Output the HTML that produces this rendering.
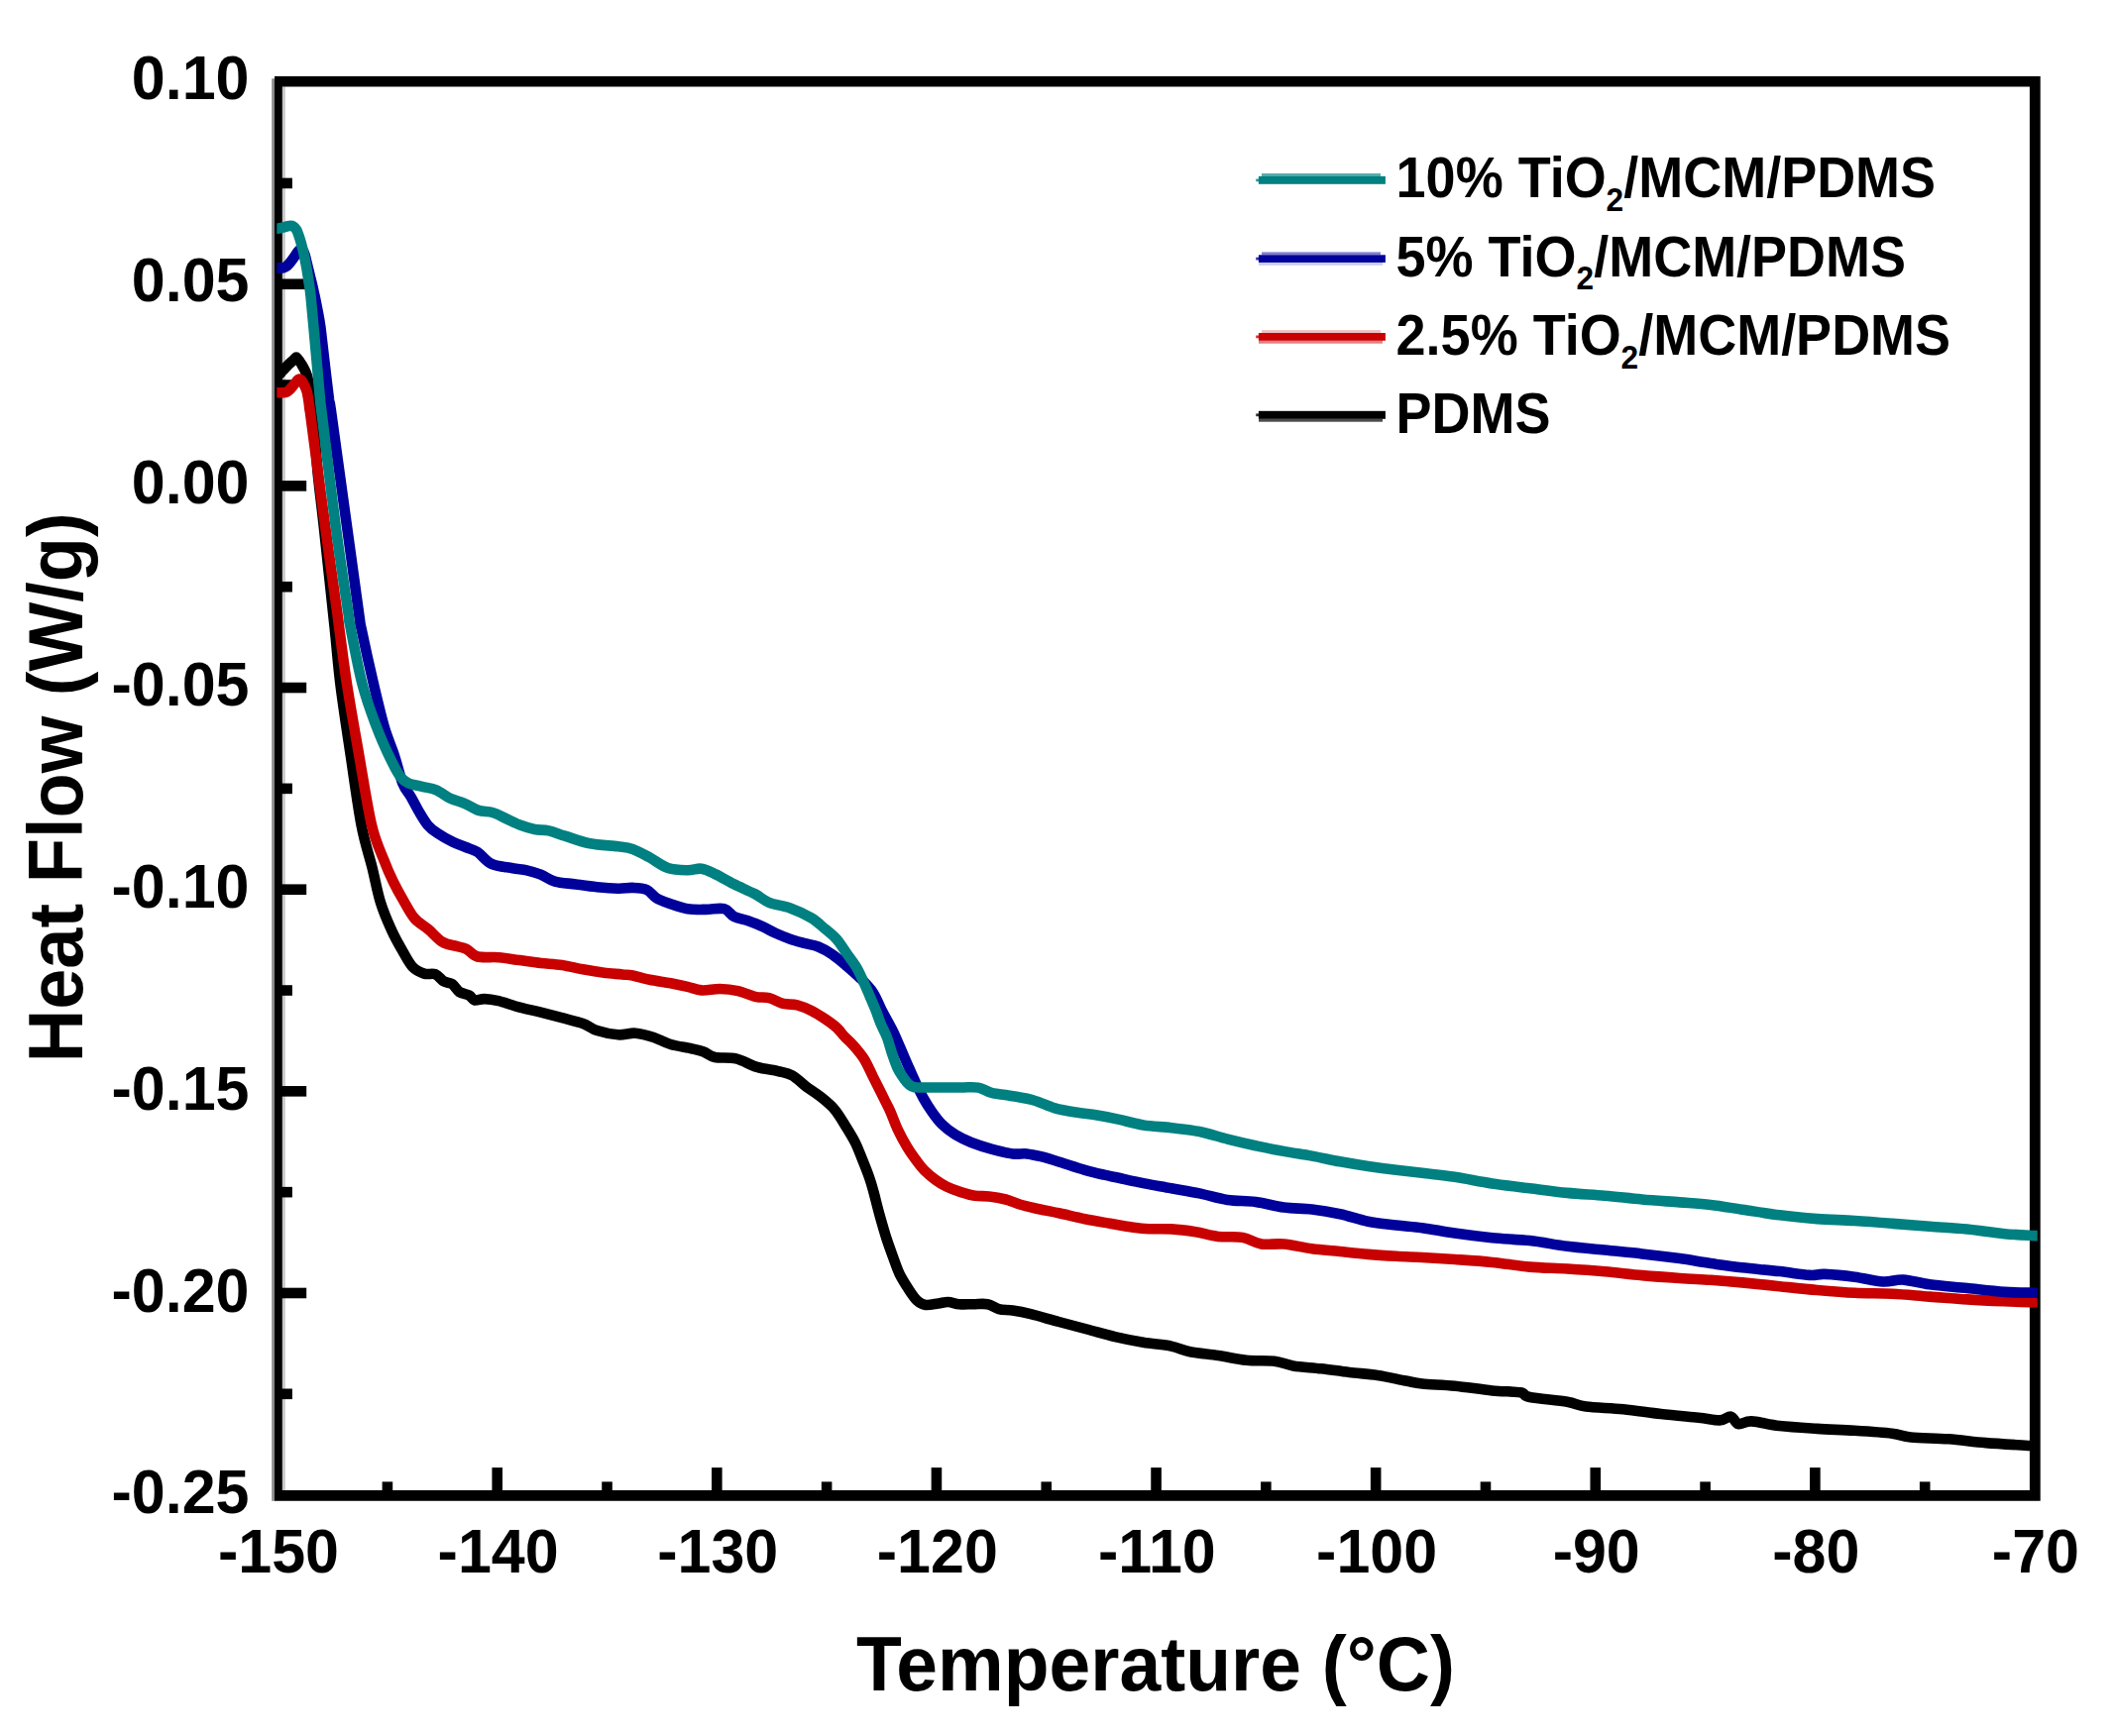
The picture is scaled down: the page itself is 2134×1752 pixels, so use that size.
<!DOCTYPE html>
<html lang="en"><head><meta charset="utf-8"><title>DSC Heat Flow vs Temperature</title>
<style>
html,body{margin:0;padding:0;background:#fff;}
body{width:2134px;height:1752px;overflow:hidden;}
svg{display:block;}
text{font-family:"Liberation Sans",sans-serif;font-weight:700;fill:#000;}
.tk{font-size:63px;}
.lg{font-size:58px;}
.sb{font-size:34px;}
.ti{font-size:77.5px;}
.cv{fill:none;stroke-linejoin:round;stroke-linecap:butt;}
</style></head><body>
<svg width="2134" height="1752" viewBox="0 0 2134 1752">
<rect x="0" y="0" width="2134" height="1752" fill="#ffffff"/>
<rect x="274.2" y="79.3" width="3.2" height="1435.5" fill="#8a8a8a"/>
<rect x="284.4" y="87.6" width="3.4" height="1416.4" fill="#c8c8c8"/>
<path fill="#000" fill-rule="evenodd" d="M277 77H2058.7V1514.8H277ZM284.8 87.6V1504H2047.9V87.6Z"/>
<g stroke="#000" stroke-width="10.6" fill="none">
<line x1="390.91" y1="1505" x2="390.91" y2="1495.40"/>
<line x1="501.71" y1="1505" x2="501.71" y2="1481.10"/>
<line x1="612.52" y1="1505" x2="612.52" y2="1495.40"/>
<line x1="723.32" y1="1505" x2="723.32" y2="1481.10"/>
<line x1="834.13" y1="1505" x2="834.13" y2="1495.40"/>
<line x1="944.94" y1="1505" x2="944.94" y2="1481.10"/>
<line x1="1055.74" y1="1505" x2="1055.74" y2="1495.40"/>
<line x1="1166.55" y1="1505" x2="1166.55" y2="1481.10"/>
<line x1="1277.35" y1="1505" x2="1277.35" y2="1495.40"/>
<line x1="1388.16" y1="1505" x2="1388.16" y2="1481.10"/>
<line x1="1498.97" y1="1505" x2="1498.97" y2="1495.40"/>
<line x1="1609.77" y1="1505" x2="1609.77" y2="1481.10"/>
<line x1="1720.58" y1="1505" x2="1720.58" y2="1495.40"/>
<line x1="1831.38" y1="1505" x2="1831.38" y2="1481.10"/>
<line x1="1942.19" y1="1505" x2="1942.19" y2="1495.40"/>
<line x1="284" y1="184.92" x2="294.90" y2="184.92"/>
<line x1="284" y1="286.75" x2="309.20" y2="286.75"/>
<line x1="284" y1="388.57" x2="294.90" y2="388.57"/>
<line x1="284" y1="490.39" x2="309.20" y2="490.39"/>
<line x1="284" y1="592.21" x2="294.90" y2="592.21"/>
<line x1="284" y1="694.04" x2="309.20" y2="694.04"/>
<line x1="284" y1="795.86" x2="294.90" y2="795.86"/>
<line x1="284" y1="897.68" x2="309.20" y2="897.68"/>
<line x1="284" y1="999.51" x2="294.90" y2="999.51"/>
<line x1="284" y1="1101.33" x2="309.20" y2="1101.33"/>
<line x1="284" y1="1203.15" x2="294.90" y2="1203.15"/>
<line x1="284" y1="1304.98" x2="309.20" y2="1304.98"/>
<line x1="284" y1="1406.80" x2="294.90" y2="1406.80"/>
</g>
<defs><clipPath id="cvclip"><rect x="279.3" y="60" width="1776.4" height="1480"/></clipPath></defs>
<g clip-path="url(#cvclip)">
<path class="cv" stroke="#000000" stroke-width="10.6" d="M273.3 380.0C273.8 380.0 275.3 380.0 276.3 380.0C277.3 380.0 277.9 380.9 279.3 380.0C280.8 379.1 283.1 376.4 285.0 374.4C286.9 372.4 289.2 369.8 291.0 368.0C292.8 366.2 294.8 364.5 296.0 363.4C297.2 362.3 297.6 361.7 298.1 361.2C298.6 360.7 298.6 360.5 298.9 360.5C299.2 360.5 299.3 360.7 299.8 361.3C300.3 361.9 301.2 363.0 302.0 364.2C302.8 365.4 304.0 367.1 304.8 368.5C305.6 369.9 306.3 371.0 307.0 372.5C307.7 374.0 308.6 375.8 309.2 377.5C309.8 379.2 310.3 380.6 310.8 383.0C311.3 385.4 311.7 388.7 312.2 392.0C312.7 395.3 313.1 398.7 313.8 403.0C314.5 407.3 315.1 406.0 316.2 418.0C317.3 430.0 318.6 456.0 320.4 475.0C322.2 494.0 324.0 505.8 326.8 531.8C329.6 557.8 334.6 604.5 337.4 631.0C340.2 657.5 340.8 669.2 343.5 691.0C346.2 712.8 350.2 738.2 353.7 761.8C357.2 785.4 361.0 813.8 364.6 832.8C368.2 851.8 372.3 862.5 375.5 875.5C378.7 888.5 380.7 900.3 384.0 910.9C387.3 921.5 391.5 931.0 395.3 939.3C399.1 947.6 403.1 954.5 406.7 960.6C410.2 966.8 413.1 972.5 416.6 976.2C420.2 979.9 424.2 981.4 428.0 982.6C431.8 983.8 436.0 982.0 439.3 983.3C442.6 984.6 445.0 988.8 447.8 990.4C450.6 992.0 453.7 991.4 456.3 993.2C458.9 995.0 460.6 999.1 463.4 1001.0C466.2 1002.9 470.7 1003.1 473.3 1004.5C475.9 1005.9 476.4 1008.9 479.0 1009.5C481.6 1010.1 484.9 1008.0 488.9 1008.1C492.9 1008.2 497.2 1008.8 503.1 1010.2C509.0 1011.6 517.3 1014.7 524.4 1016.6C531.5 1018.5 538.6 1019.8 545.7 1021.6C552.8 1023.4 559.9 1025.3 567.0 1027.2C574.1 1029.1 582.3 1030.8 588.2 1032.9C594.1 1035.0 596.5 1038.1 602.4 1040.0C608.3 1041.9 617.2 1043.8 623.7 1044.3C630.2 1044.8 635.3 1042.2 641.3 1042.7C647.3 1043.2 653.8 1045.1 659.7 1047.0C665.6 1048.9 670.3 1052.1 676.7 1054.0C683.1 1055.9 692.5 1057.0 698.0 1058.3C703.5 1059.5 706.1 1060.0 710.0 1061.5C713.9 1063.0 715.9 1065.8 721.3 1067.0C726.7 1068.2 735.5 1066.8 742.6 1068.4C749.7 1070.1 756.7 1074.8 763.8 1076.9C770.9 1079.0 779.2 1079.7 785.1 1081.1C791.0 1082.5 794.6 1082.8 799.3 1085.4C804.0 1088.0 808.8 1093.2 813.5 1096.7C818.2 1100.2 823.0 1102.9 827.7 1106.7C832.4 1110.5 837.5 1114.4 841.8 1119.4C846.0 1124.4 849.7 1130.8 853.2 1136.5C856.8 1142.2 860.3 1147.8 863.1 1153.5C865.9 1159.2 867.8 1164.6 870.2 1170.5C872.6 1176.4 875.4 1183.5 877.3 1188.9C879.2 1194.3 879.8 1196.7 881.5 1203.0C883.2 1209.3 885.4 1218.7 887.6 1226.5C889.8 1234.3 892.2 1242.9 894.5 1250.0C896.8 1257.1 899.1 1263.2 901.3 1269.2C903.5 1275.2 905.1 1280.5 907.7 1285.8C910.3 1291.1 914.0 1296.8 916.9 1301.3C919.8 1305.8 922.6 1310.0 925.4 1312.6C928.2 1315.2 930.3 1316.4 933.9 1316.9C937.5 1317.4 942.9 1316.0 946.7 1315.5C950.5 1315.0 953.1 1313.9 956.6 1314.0C960.1 1314.1 963.6 1315.8 967.9 1316.2C972.1 1316.6 977.4 1316.2 982.1 1316.2C986.8 1316.2 992.0 1315.4 996.3 1316.2C1000.6 1317.0 1003.5 1320.0 1007.7 1321.1C1012.0 1322.2 1016.4 1321.8 1021.8 1322.6C1027.2 1323.4 1032.2 1324.3 1040.0 1326.2C1047.8 1328.1 1059.0 1331.5 1068.4 1334.0C1077.9 1336.5 1087.2 1339.0 1096.7 1341.5C1106.2 1344.0 1115.6 1346.9 1125.1 1349.1C1134.6 1351.3 1144.0 1353.2 1153.5 1354.8C1163.0 1356.4 1173.9 1357.0 1181.8 1358.6C1189.7 1360.2 1192.9 1362.6 1200.8 1364.2C1208.7 1365.8 1219.6 1366.6 1229.1 1368.0C1238.5 1369.4 1248.0 1371.8 1257.5 1372.7C1267.0 1373.7 1278.0 1372.8 1285.9 1373.7C1293.8 1374.7 1296.9 1377.1 1304.8 1378.4C1312.7 1379.7 1323.6 1380.2 1333.1 1381.3C1342.5 1382.4 1352.0 1383.9 1361.5 1385.0C1371.0 1386.1 1380.4 1386.5 1389.9 1387.9C1399.4 1389.3 1410.8 1392.1 1418.3 1393.5C1425.8 1394.9 1426.8 1395.6 1435.0 1396.5C1443.2 1397.4 1456.0 1397.5 1467.8 1398.7C1479.6 1399.9 1494.6 1402.3 1505.6 1403.4C1516.6 1404.5 1527.7 1404.2 1534.0 1405.3C1540.3 1406.4 1535.6 1408.4 1543.5 1410.0C1551.4 1411.6 1571.8 1413.2 1581.3 1414.8C1590.8 1416.4 1590.8 1418.2 1600.2 1419.5C1609.7 1420.8 1625.4 1421.0 1638.0 1422.3C1650.6 1423.6 1663.3 1425.7 1675.9 1427.1C1688.5 1428.5 1703.8 1429.8 1713.7 1430.8C1723.6 1431.8 1729.6 1433.6 1735.1 1433.4C1740.6 1433.2 1743.3 1429.0 1746.5 1429.6C1749.7 1430.2 1750.5 1436.4 1754.0 1437.2C1757.5 1438.0 1760.4 1434.1 1767.3 1434.4C1774.2 1434.7 1784.6 1437.8 1795.6 1439.1C1806.6 1440.3 1820.9 1441.1 1833.5 1441.9C1846.1 1442.7 1858.7 1443.0 1871.3 1443.8C1883.9 1444.6 1899.6 1445.6 1909.1 1446.7C1918.5 1447.8 1918.5 1449.6 1928.0 1450.5C1937.5 1451.4 1953.3 1451.4 1965.9 1452.3C1978.5 1453.2 1990.0 1455.0 2003.7 1456.1C2017.4 1457.2 2039.4 1458.4 2048.1 1459.0C2056.8 1459.6 2053.8 1459.4 2055.7 1459.5C2057.6 1459.6 2059.0 1459.8 2059.7 1459.8"/>
<path class="cv" stroke="#c80000" stroke-width="10.6" d="M273.3 396.2C273.8 396.2 275.3 396.2 276.3 396.2C277.3 396.2 277.4 396.2 279.3 396.2C281.2 396.2 286.0 396.4 288.0 396.0C290.0 395.6 290.3 395.0 291.5 394.0C292.7 393.0 293.8 391.6 295.0 390.2C296.2 388.8 297.4 387.1 298.5 385.8C299.6 384.5 300.8 382.7 301.9 382.6C303.0 382.5 304.1 383.8 305.0 385.0C305.9 386.2 306.8 388.3 307.6 390.0C308.4 391.7 309.1 393.0 309.7 395.3C310.3 397.6 310.8 400.9 311.3 404.0C311.8 407.1 312.1 410.9 312.5 413.7C312.9 416.5 311.0 401.3 313.6 421.0C316.2 440.7 323.7 498.6 328.2 531.8C332.7 565.0 338.2 603.5 340.5 620.0C342.8 636.5 340.3 619.3 341.9 631.1C343.5 642.9 346.7 669.2 350.1 691.0C353.5 712.8 358.1 738.2 362.2 761.8C366.3 785.4 370.8 815.0 375.0 832.8C379.2 850.6 383.9 858.9 387.5 868.4C391.1 877.9 393.5 883.0 396.7 889.6C399.9 896.2 403.1 902.0 406.7 908.1C410.2 914.2 413.8 921.5 418.0 926.5C422.2 931.5 427.5 933.9 432.2 937.9C436.9 941.9 441.7 947.8 446.4 950.6C451.1 953.4 456.6 953.7 460.6 954.9C464.6 956.1 467.0 955.9 470.5 957.7C474.0 959.5 476.4 964.1 481.8 965.5C487.2 966.9 496.0 965.6 503.1 966.2C510.2 966.8 517.3 968.2 524.4 969.1C531.5 970.0 538.6 971.1 545.7 971.9C552.8 972.7 559.9 972.9 567.0 974.0C574.1 975.1 581.1 977.0 588.2 978.3C595.3 979.6 602.9 980.9 609.5 981.8C616.1 982.6 623.2 982.9 628.0 983.4C632.8 983.9 633.8 983.6 638.4 984.5C643.0 985.4 649.1 987.5 655.5 988.8C661.9 990.1 670.3 991.1 676.7 992.3C683.1 993.5 688.6 994.7 693.8 995.9C699.0 997.1 702.5 999.0 707.9 999.4C713.3 999.8 720.2 997.9 726.4 998.0C732.5 998.1 738.9 998.8 744.8 1000.1C750.7 1001.4 756.6 1004.6 761.8 1005.8C767.0 1007.0 771.3 1006.0 776.0 1007.2C780.7 1008.4 785.5 1011.7 790.2 1012.9C794.9 1014.1 799.7 1013.1 804.4 1014.3C809.1 1015.5 813.9 1017.6 818.6 1020.0C823.3 1022.4 828.5 1025.7 832.8 1028.5C837.0 1031.3 840.9 1034.1 844.1 1037.0C847.3 1039.9 849.3 1043.1 852.0 1046.0C854.7 1048.9 857.0 1050.5 860.3 1054.2C863.6 1057.9 868.1 1062.9 871.6 1068.4C875.1 1073.9 877.5 1080.0 881.0 1087.0C884.5 1094.0 889.9 1104.6 892.8 1110.5C895.7 1116.4 896.5 1117.5 898.6 1122.3C900.7 1127.1 902.8 1133.5 905.6 1139.4C908.4 1145.4 912.4 1152.8 915.5 1158.0C918.6 1163.2 921.2 1166.6 924.1 1170.5C927.0 1174.4 929.7 1178.2 933.0 1181.5C936.3 1184.8 940.1 1187.9 943.8 1190.6C947.5 1193.3 950.7 1195.4 955.0 1197.5C959.3 1199.6 964.7 1201.6 969.5 1203.1C974.3 1204.6 979.0 1206.0 983.7 1206.7C988.5 1207.4 992.8 1206.9 998.0 1207.5C1003.2 1208.1 1009.6 1209.2 1014.8 1210.5C1019.9 1211.8 1023.9 1214.0 1028.9 1215.5C1033.9 1217.0 1038.4 1218.0 1045.0 1219.5C1051.6 1221.0 1060.1 1222.5 1068.4 1224.3C1076.7 1226.1 1086.1 1228.5 1094.7 1230.2C1103.3 1232.0 1113.2 1233.6 1120.0 1234.8C1126.8 1236.0 1129.5 1236.5 1135.3 1237.4C1141.1 1238.3 1147.2 1239.5 1155.0 1240.0C1162.8 1240.5 1173.2 1239.9 1181.8 1240.4C1190.4 1240.9 1198.5 1242.0 1206.4 1243.2C1214.3 1244.5 1221.2 1247.0 1229.1 1247.9C1237.0 1248.9 1246.5 1247.6 1253.7 1248.9C1261.0 1250.2 1265.7 1254.4 1272.6 1255.5C1279.5 1256.6 1286.8 1254.7 1295.3 1255.5C1303.8 1256.3 1314.2 1259.0 1323.7 1260.2C1333.2 1261.5 1342.6 1262.0 1352.1 1263.0C1361.5 1264.0 1371.0 1265.1 1380.4 1265.9C1389.9 1266.7 1399.7 1267.3 1408.8 1267.8C1417.9 1268.3 1425.2 1268.5 1435.0 1269.0C1444.8 1269.5 1456.0 1270.2 1467.8 1271.0C1479.6 1271.8 1493.0 1272.6 1505.6 1273.9C1518.2 1275.2 1530.9 1277.5 1543.5 1278.6C1556.1 1279.7 1568.7 1279.7 1581.3 1280.5C1593.9 1281.3 1606.5 1282.2 1619.1 1283.3C1631.7 1284.4 1644.3 1286.0 1656.9 1287.1C1669.5 1288.2 1683.3 1289.2 1694.8 1290.0C1706.3 1290.8 1715.5 1291.1 1726.0 1291.8C1736.5 1292.5 1746.2 1293.3 1757.8 1294.4C1769.4 1295.5 1783.0 1296.9 1795.6 1298.2C1808.2 1299.5 1820.9 1300.9 1833.5 1302.0C1846.1 1303.1 1858.7 1304.2 1871.3 1304.8C1883.9 1305.4 1896.5 1305.2 1909.1 1305.8C1921.7 1306.4 1934.3 1307.7 1946.9 1308.6C1959.5 1309.5 1972.2 1310.6 1984.8 1311.4C1997.4 1312.2 2010.8 1312.8 2022.6 1313.3C2034.4 1313.8 2049.5 1314.1 2055.7 1314.3C2061.9 1314.5 2059.0 1314.5 2059.7 1314.6"/>
<path class="cv" stroke="#00009b" stroke-width="10.6" d="M273.3 270.4C273.8 270.4 275.3 270.4 276.3 270.4C277.3 270.4 277.7 270.4 279.3 270.4C280.9 270.4 284.3 270.5 286.0 270.2C287.7 269.9 288.4 269.2 289.5 268.4C290.6 267.5 291.3 266.7 292.6 265.1C293.9 263.5 296.0 260.6 297.3 258.7C298.6 256.8 299.6 255.2 300.5 254.0C301.4 252.8 302.2 251.8 303.0 251.6C303.8 251.4 304.7 251.6 305.5 252.6C306.3 253.6 306.9 255.1 307.6 257.5C308.4 259.9 309.1 263.2 310.0 267.0C310.9 270.8 312.3 276.2 313.2 280.0C314.1 283.8 314.8 286.4 315.6 290.0C316.4 293.6 317.3 297.5 318.2 301.8C319.1 306.1 320.1 311.3 321.0 316.0C321.9 320.7 322.4 323.1 323.4 330.2C324.3 337.3 325.3 346.8 326.7 358.6C328.1 370.4 330.4 391.0 331.7 401.0C333.0 411.0 331.4 396.6 334.5 418.4C337.6 440.2 345.4 497.9 350.1 531.8C354.8 565.7 360.1 605.0 362.5 622.0C364.9 639.0 362.1 622.5 364.5 634.0C366.9 645.5 373.2 674.4 377.1 691.0C381.0 707.6 384.3 721.7 387.7 733.5C391.1 745.3 394.6 752.3 397.7 761.8C400.8 771.2 403.4 783.1 406.2 790.2C409.0 797.3 412.0 799.7 414.7 804.4C417.4 809.1 419.7 813.9 422.5 818.6C425.3 823.3 428.6 829.1 431.7 832.8C434.8 836.5 436.8 837.8 441.0 840.6C445.2 843.4 452.2 847.4 457.0 849.8C461.8 852.2 465.9 853.3 470.0 855.0C474.1 856.7 477.5 857.1 481.8 859.9C486.1 862.7 490.1 869.2 496.0 871.9C501.9 874.6 511.4 875.1 517.3 876.2C523.2 877.3 526.8 877.2 531.5 878.3C536.2 879.4 541.0 880.7 545.7 882.6C550.4 884.5 554.0 888.0 559.9 889.6C565.8 891.2 574.0 891.5 581.1 892.5C588.2 893.5 595.3 894.6 602.4 895.3C609.5 896.0 617.7 896.6 623.7 896.7C629.7 896.8 633.6 895.7 638.4 895.9C643.2 896.1 648.6 896.2 652.6 898.0C656.6 899.8 658.6 904.1 662.6 906.5C666.6 908.9 671.5 910.4 676.7 912.2C681.9 914.0 687.9 916.2 693.8 917.2C699.7 918.2 706.1 917.9 712.2 917.9C718.3 917.9 725.9 916.0 730.6 917.2C735.3 918.4 736.6 923.0 740.6 925.0C744.6 927.0 750.1 927.6 754.8 929.2C759.5 930.9 764.2 932.8 768.9 934.9C773.6 937.0 778.4 939.9 783.1 942.0C787.8 944.1 792.6 946.1 797.3 947.7C802.0 949.4 806.8 950.6 811.5 951.9C816.2 953.2 821.0 953.6 825.7 955.5C830.4 957.4 835.2 960.1 839.9 963.3C844.6 966.5 849.3 970.6 854.0 974.6C858.7 978.6 863.7 982.9 868.2 987.4C872.7 991.9 877.3 996.4 880.8 1001.6C884.3 1006.8 886.5 1013.4 889.2 1018.6C891.9 1023.8 894.7 1028.9 896.8 1032.8C898.9 1036.7 899.6 1037.7 901.6 1042.0C903.6 1046.3 906.4 1052.8 908.8 1058.4C911.2 1064.0 913.7 1069.8 916.2 1075.5C918.7 1081.2 921.2 1087.1 923.8 1092.5C926.4 1097.9 928.8 1103.1 931.6 1108.1C934.4 1113.1 937.4 1117.9 940.5 1122.3C943.6 1126.7 946.4 1130.7 950.3 1134.5C954.2 1138.3 958.8 1142.0 963.8 1145.1C968.8 1148.2 973.9 1150.6 980.0 1153.0C986.1 1155.4 993.3 1157.7 1000.3 1159.6C1007.3 1161.5 1015.8 1163.6 1021.8 1164.4C1027.8 1165.2 1031.3 1163.9 1036.0 1164.4C1040.7 1164.9 1044.5 1165.8 1050.2 1167.2C1055.9 1168.6 1062.6 1170.7 1070.0 1173.0C1077.4 1175.3 1087.4 1178.7 1094.7 1180.8C1102.0 1182.9 1108.1 1184.3 1114.0 1185.7C1119.9 1187.1 1123.2 1187.5 1130.0 1189.0C1136.8 1190.5 1146.4 1192.7 1155.0 1194.4C1163.6 1196.1 1172.6 1197.5 1181.8 1199.2C1191.0 1200.9 1200.7 1202.4 1210.2 1204.4C1219.7 1206.4 1229.1 1209.6 1238.6 1211.0C1248.0 1212.4 1257.5 1211.6 1266.9 1212.9C1276.4 1214.2 1285.8 1217.3 1295.3 1218.6C1304.8 1219.9 1314.2 1219.4 1323.7 1220.5C1333.2 1221.6 1342.6 1223.2 1352.1 1225.2C1361.5 1227.2 1371.0 1230.9 1380.4 1232.8C1389.9 1234.7 1399.7 1235.5 1408.8 1236.6C1417.9 1237.7 1425.2 1237.9 1435.0 1239.2C1444.8 1240.5 1456.0 1242.9 1467.8 1244.6C1479.6 1246.3 1493.0 1248.0 1505.6 1249.3C1518.2 1250.5 1530.9 1250.7 1543.5 1252.1C1556.1 1253.5 1568.7 1256.2 1581.3 1257.8C1593.9 1259.4 1606.5 1260.3 1619.1 1261.6C1631.7 1262.9 1644.3 1264.0 1656.9 1265.4C1669.5 1266.8 1683.3 1268.5 1694.8 1270.1C1706.3 1271.7 1715.5 1273.5 1726.0 1275.0C1736.5 1276.5 1746.2 1278.0 1757.8 1279.3C1769.4 1280.6 1784.2 1281.8 1795.6 1283.1C1806.9 1284.4 1818.3 1286.4 1825.9 1286.9C1833.5 1287.4 1833.4 1285.6 1841.0 1285.9C1848.6 1286.2 1861.5 1287.4 1871.3 1288.7C1881.1 1290.0 1891.5 1293.0 1899.7 1293.5C1907.9 1294.0 1912.6 1291.1 1920.5 1291.6C1928.4 1292.1 1936.2 1294.9 1946.9 1296.3C1957.6 1297.7 1972.2 1298.8 1984.8 1300.1C1997.4 1301.4 2010.8 1303.1 2022.6 1303.9C2034.4 1304.7 2049.5 1304.6 2055.7 1304.8C2061.9 1305.0 2059.0 1305.0 2059.7 1305.1"/>
<path class="cv" stroke="#008080" stroke-width="10.6" d="M273.3 230.8C273.8 230.8 275.3 230.8 276.3 230.8C277.3 230.8 277.8 231.0 279.3 230.8C280.8 230.6 283.4 230.1 285.5 229.6C287.6 229.1 289.9 228.2 291.7 228.0C293.4 227.8 294.8 227.9 296.0 228.6C297.2 229.3 298.3 230.5 299.2 232.0C300.1 233.5 300.6 235.2 301.4 237.5C302.2 239.8 303.0 242.4 304.0 246.0C305.0 249.6 306.3 255.0 307.2 259.3C308.1 263.6 308.9 267.7 309.6 272.0C310.3 276.3 310.9 280.0 311.6 285.0C312.3 290.0 312.6 289.5 313.8 301.8C315.0 314.1 317.5 342.1 319.0 358.6C320.5 375.1 321.8 391.0 322.8 401.0C323.8 411.0 322.1 396.6 324.8 418.4C327.5 440.2 334.3 498.2 338.8 531.8C343.3 565.4 349.2 603.5 351.6 620.0C354.0 636.5 350.9 619.3 353.2 631.1C355.5 642.9 361.2 673.9 365.7 691.0C370.1 708.1 375.5 721.7 379.9 733.5C384.3 745.3 388.1 753.5 392.0 761.8C395.9 770.0 400.0 778.3 403.3 783.0C406.6 787.7 408.0 788.4 411.8 790.2C415.6 792.0 421.3 792.6 426.0 793.8C430.7 795.0 435.5 795.3 440.2 797.3C444.9 799.3 449.7 803.5 454.4 805.8C459.1 808.0 463.9 808.8 468.6 810.8C473.3 812.8 478.1 816.4 482.8 817.9C487.5 819.4 492.3 818.6 497.0 820.0C501.7 821.4 506.4 824.3 511.1 826.4C515.8 828.5 520.6 831.0 525.3 832.8C530.0 834.6 534.8 836.1 539.5 837.0C544.2 837.9 548.6 837.3 553.7 838.4C558.8 839.5 563.1 841.5 570.0 843.6C576.9 845.8 586.3 849.5 595.3 851.3C604.2 853.1 616.5 853.3 623.7 854.2C630.9 855.1 633.1 855.0 638.4 856.9C643.7 858.8 649.6 862.2 655.5 865.4C661.4 868.6 667.5 873.9 673.9 876.0C680.3 878.1 688.1 878.1 693.8 878.2C699.5 878.3 703.2 876.0 707.9 876.7C712.6 877.4 716.6 879.8 722.1 882.4C727.6 885.0 734.0 889.0 740.6 892.3C747.2 895.6 755.9 899.2 761.8 902.3C767.7 905.4 770.1 908.4 776.0 910.8C781.9 913.2 790.2 913.9 797.3 916.5C804.4 919.1 812.7 922.9 818.6 926.4C824.5 929.9 828.5 934.2 832.8 937.7C837.0 941.2 840.6 943.7 844.1 947.7C847.6 951.7 850.7 957.1 854.0 961.8C857.3 966.5 861.2 971.3 864.0 976.0C866.8 980.7 868.8 985.5 871.0 990.2C873.2 994.9 875.2 999.7 877.2 1004.4C879.2 1009.1 881.2 1013.7 883.2 1018.6C885.2 1023.5 887.0 1029.3 889.0 1034.0C891.0 1038.7 893.2 1042.2 895.0 1047.0C896.8 1051.8 898.2 1057.8 900.0 1063.0C901.8 1068.2 903.6 1073.7 905.6 1078.0C907.6 1082.3 910.3 1086.0 912.3 1088.8C914.3 1091.6 915.9 1093.4 917.6 1094.8C919.3 1096.2 920.4 1096.8 922.5 1097.2C924.6 1097.7 926.9 1097.5 930.0 1097.5C933.1 1097.5 934.4 1097.5 941.0 1097.5C947.6 1097.5 961.8 1097.5 969.5 1097.5C977.2 1097.5 981.9 1096.7 987.0 1097.6C992.1 1098.5 994.6 1101.4 1000.4 1102.8C1006.2 1104.2 1014.7 1104.9 1021.8 1106.2C1028.9 1107.5 1036.0 1108.5 1043.1 1110.5C1050.2 1112.5 1057.3 1116.3 1064.4 1118.3C1071.5 1120.3 1078.6 1121.4 1085.7 1122.6C1092.8 1123.8 1099.9 1124.2 1107.0 1125.4C1114.1 1126.6 1120.5 1127.9 1128.2 1129.6C1136.0 1131.3 1144.6 1134.0 1153.5 1135.4C1162.4 1136.8 1172.3 1137.1 1181.8 1138.2C1191.2 1139.3 1200.7 1140.1 1210.2 1142.0C1219.7 1143.9 1229.1 1147.2 1238.6 1149.6C1248.0 1152.0 1257.5 1154.2 1266.9 1156.2C1276.4 1158.2 1285.8 1160.2 1295.3 1161.9C1304.8 1163.6 1314.2 1164.9 1323.7 1166.6C1333.2 1168.3 1342.6 1170.6 1352.1 1172.3C1361.5 1174.0 1371.0 1175.6 1380.4 1177.0C1389.9 1178.4 1399.7 1179.7 1408.8 1180.8C1417.9 1181.9 1425.2 1182.6 1435.0 1183.8C1444.8 1185.0 1456.0 1186.0 1467.8 1187.8C1479.6 1189.6 1493.0 1192.5 1505.6 1194.4C1518.2 1196.3 1530.9 1197.6 1543.5 1199.2C1556.1 1200.8 1568.7 1202.7 1581.3 1203.9C1593.9 1205.2 1606.5 1205.6 1619.1 1206.7C1631.7 1207.8 1644.3 1209.4 1656.9 1210.5C1669.5 1211.6 1683.3 1212.5 1694.8 1213.4C1706.3 1214.3 1715.5 1214.8 1726.0 1216.0C1736.5 1217.2 1746.2 1219.0 1757.8 1220.7C1769.4 1222.4 1783.0 1224.7 1795.6 1226.3C1808.2 1227.9 1820.9 1229.1 1833.5 1230.1C1846.1 1231.0 1858.7 1231.2 1871.3 1232.0C1883.9 1232.8 1896.5 1233.8 1909.1 1234.8C1921.7 1235.8 1934.3 1236.8 1946.9 1237.7C1959.5 1238.7 1972.2 1239.2 1984.8 1240.5C1997.4 1241.8 2010.8 1244.1 2022.6 1245.2C2034.4 1246.3 2049.5 1246.7 2055.7 1247.1C2061.9 1247.5 2059.0 1247.3 2059.7 1247.4"/>
</g>
<g class="tk" text-anchor="middle">
<text transform="translate(281.0,1587.3) scale(0.968,1)">-150</text>
<text transform="translate(502.6,1587.3) scale(0.968,1)">-140</text>
<text transform="translate(724.2,1587.3) scale(0.968,1)">-130</text>
<text transform="translate(945.8,1587.3) scale(0.968,1)">-120</text>
<text transform="translate(1167.4,1587.3) scale(0.968,1)">-110</text>
<text transform="translate(1389.1,1587.3) scale(0.968,1)">-100</text>
<text transform="translate(1610.7,1587.3) scale(0.968,1)">-90</text>
<text transform="translate(1832.3,1587.3) scale(0.968,1)">-80</text>
<text transform="translate(2053.9,1587.3) scale(0.968,1)">-70</text>
</g>
<g class="tk" text-anchor="end">
<text transform="translate(251.5,100.4) scale(0.968,1)">0.10</text>
<text transform="translate(251.5,304.3) scale(0.968,1)">0.05</text>
<text transform="translate(251.5,508.1) scale(0.968,1)">0.00</text>
<text transform="translate(251.5,712.0) scale(0.968,1)">-0.05</text>
<text transform="translate(251.5,915.8) scale(0.968,1)">-0.10</text>
<text transform="translate(251.5,1119.7) scale(0.968,1)">-0.15</text>
<text transform="translate(251.5,1323.6) scale(0.968,1)">-0.20</text>
<text transform="translate(251.5,1527.4) scale(0.968,1)">-0.25</text>
</g>
<text class="ti" text-anchor="middle" transform="translate(1166,1706) scale(0.968,1)">Temperature (°C)</text>
<text class="ti" text-anchor="middle" transform="translate(82.8,794.8) rotate(-90) scale(0.955,1)">Heat Flow (W/g)</text>
<rect x="1269.9" y="177.9" width="128" height="7.9" fill="#008080"/>
<rect x="1267.2" y="180.5" width="2.8" height="2.8" fill="#008080" fill-opacity="0.8"/>
<rect x="1273" y="175.0" width="120" height="3" fill="#008080" fill-opacity="0.65"/>
<text class="lg" transform="translate(1408.6,199.1) scale(0.931,1)">10% TiO<tspan class="sb" dy="13.5">2</tspan><tspan dy="-13.5">/MCM/PDMS</tspan></text>
<rect x="1269.9" y="257.3" width="128" height="7.6" fill="#00009b"/>
<rect x="1267.2" y="259.7" width="2.8" height="2.8" fill="#00009b" fill-opacity="0.8"/>
<rect x="1273" y="254.4" width="120" height="3" fill="#00009b" fill-opacity="0.5"/>
<rect x="1270" y="264.8" width="125" height="3" fill="#00009b" fill-opacity="0.2"/>
<text class="lg" transform="translate(1408.6,278.9) scale(0.931,1)">5% TiO<tspan class="sb" dy="13.5">2</tspan><tspan dy="-13.5">/MCM/PDMS</tspan></text>
<rect x="1269.9" y="336.0" width="128" height="7.8" fill="#c80000"/>
<rect x="1267.2" y="338.5" width="2.8" height="2.8" fill="#c80000" fill-opacity="0.8"/>
<rect x="1273" y="333.1" width="120" height="3" fill="#c80000" fill-opacity="0.25"/>
<rect x="1270" y="343.7" width="125" height="3" fill="#c80000" fill-opacity="0.5"/>
<text class="lg" transform="translate(1408.6,358.0) scale(0.931,1)">2.5% TiO<tspan class="sb" dy="13.5">2</tspan><tspan dy="-13.5">/MCM/PDMS</tspan></text>
<rect x="1269.9" y="414.8" width="128" height="8.0" fill="#000000"/>
<rect x="1267.2" y="417.4" width="2.8" height="2.8" fill="#000000" fill-opacity="0.8"/>
<rect x="1270" y="422.7" width="125" height="3" fill="#000000" fill-opacity="0.7"/>
<text class="lg" transform="translate(1408.6,436.5) scale(0.931,1)">PDMS</text>
</svg>
</body></html>
